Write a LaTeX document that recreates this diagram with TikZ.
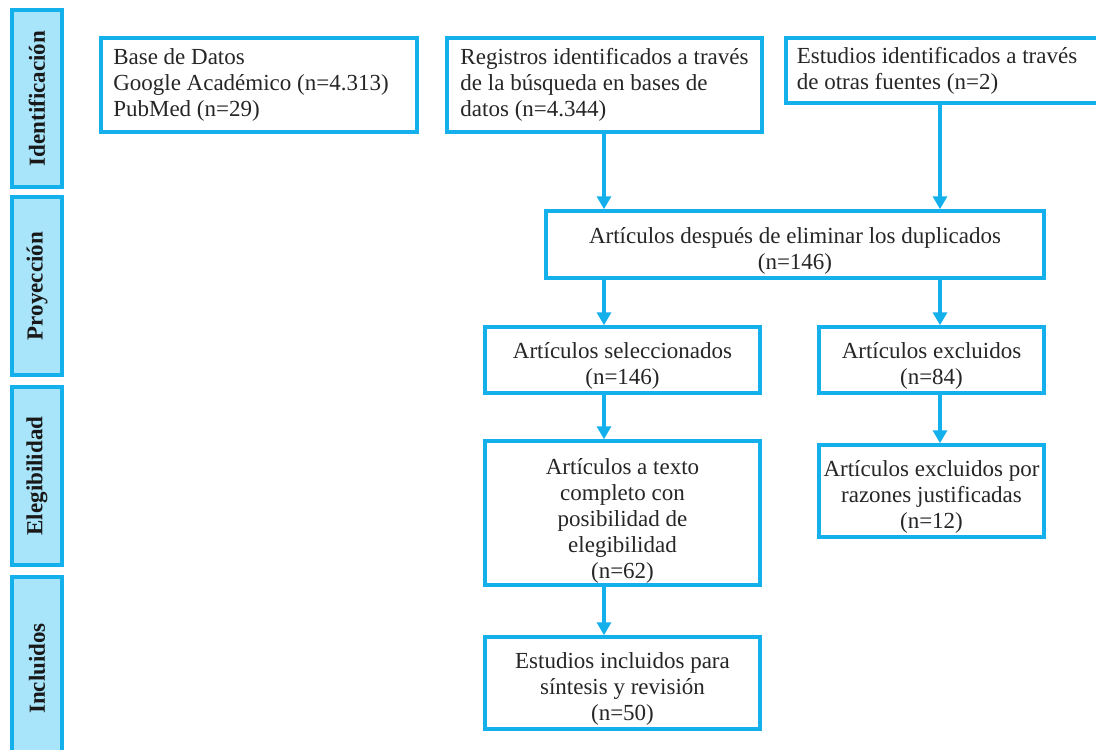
\documentclass[tikz,border=0pt]{standalone}
\usepackage{fontspec}
\setmainfont{Liberation Serif}
\usetikzlibrary{arrows.meta}
\definecolor{azul}{RGB}{20,176,236}
\definecolor{celeste}{RGB}{168,228,250}
\newcommand{\boxfont}{\fontsize{23}{26}\selectfont}
\newcommand{\tagfont}{\fontsize{23}{25}\selectfont\bfseries}
\newcommand{\bajar}[1]{\rule{0pt}{#1}}

\begin{document}
\begin{tikzpicture}[x=1pt,y=-1pt,
    box/.style={draw=azul, line width=3.5pt, fill=white, inner sep=0pt,
                align=center, text=black!85, font=\boxfont},
    tag/.style={draw=azul, line width=3.5pt, fill=celeste, inner sep=0pt,
                minimum width=50pt, text=black!90, font=\tagfont},
    flow/.style={draw=azul, line width=3.5pt,
                 -{Triangle[width=14pt,length=13pt]}}]
    \clip (0,0) rectangle (1096,750);
    \fill [white] (0,0) rectangle (1096,750);

    \node [tag, minimum height=177pt] (t1) at (37,98.5)  {\rotatebox{90}{Identificación}};
    \node [tag, minimum height=178pt] (t2) at (37,286)   {\rotatebox{90}{Proyección}};
    \node [tag, minimum height=178pt] (t3) at (37,476)   {\rotatebox{90}{Elegibilidad}};
    \node [tag, minimum height=183pt] (t4) at (37,668.5) {\rotatebox{90}{Incluidos}};

    \node [box, minimum width=316pt, minimum height=94pt, align=left]
          (base) at (259,85)    {\hspace{-16pt}Base de Datos\\\hspace{-16pt}Google Académico (n=4.313)\\\hspace{-16pt}PubMed (n=29)};
    \node [box, minimum width=315pt, minimum height=94pt, align=left]
          (reg)  at (604.5,85)  {Registros identificados a través\\de la búsqueda en bases de\\datos (n=4.344)};
    \node [box, minimum width=320pt, minimum height=65pt, align=left]
          (otr)  at (946,70.5)  {\hspace{-18pt}Estudios identificados a través\\\hspace{-18pt}de otras fuentes (n=2)};
    \node [box, minimum width=498pt, minimum height=67pt]
          (dup)  at (795,244.5) {\bajar{28pt}Artículos después de eliminar los duplicados\\(n=146)};
    \node [box, minimum width=275pt, minimum height=66pt]
          (sel)  at (622.5,360) {\bajar{28pt}Artículos seleccionados\\(n=146)};
    \node [box, minimum width=225pt, minimum height=66pt]
          (exc)  at (931.5,360) {\bajar{28pt}Artículos excluidos\\(n=84)};
    \node [box, minimum width=275pt, minimum height=144pt]
          (tex)  at (622.5,513) {\bajar{32pt}Artículos a texto\\completo con\\posibilidad de\\elegibilidad\\(n=62)};
    \node [box, minimum width=225pt, minimum height=92pt]
          (jus)  at (931.5,491) {\bajar{27pt}Artículos excluidos por\\razones justificadas\\(n=12)};
    \node [box, minimum width=275pt, minimum height=92pt]
          (inc)  at (622.5,683) {\bajar{28pt}Estudios incluidos para\\síntesis y revisión\\(n=50)};

    \coordinate (izq) at (604,0);
    \coordinate (der) at (940,0);

    \draw [flow] (reg.south -| izq) -- (dup.north -| izq);
    \draw [flow] (otr.south -| der) -- (dup.north -| der);
    \draw [flow] (dup.south -| izq) -- (sel.north -| izq);
    \draw [flow] (dup.south -| der) -- (exc.north -| der);
    \draw [flow] (sel.south -| izq) -- (tex.north -| izq);
    \draw [flow] (exc.south -| der) -- (jus.north -| der);
    \draw [flow] (tex.south -| izq) -- (inc.north -| izq);
\end{tikzpicture}
\end{document}
